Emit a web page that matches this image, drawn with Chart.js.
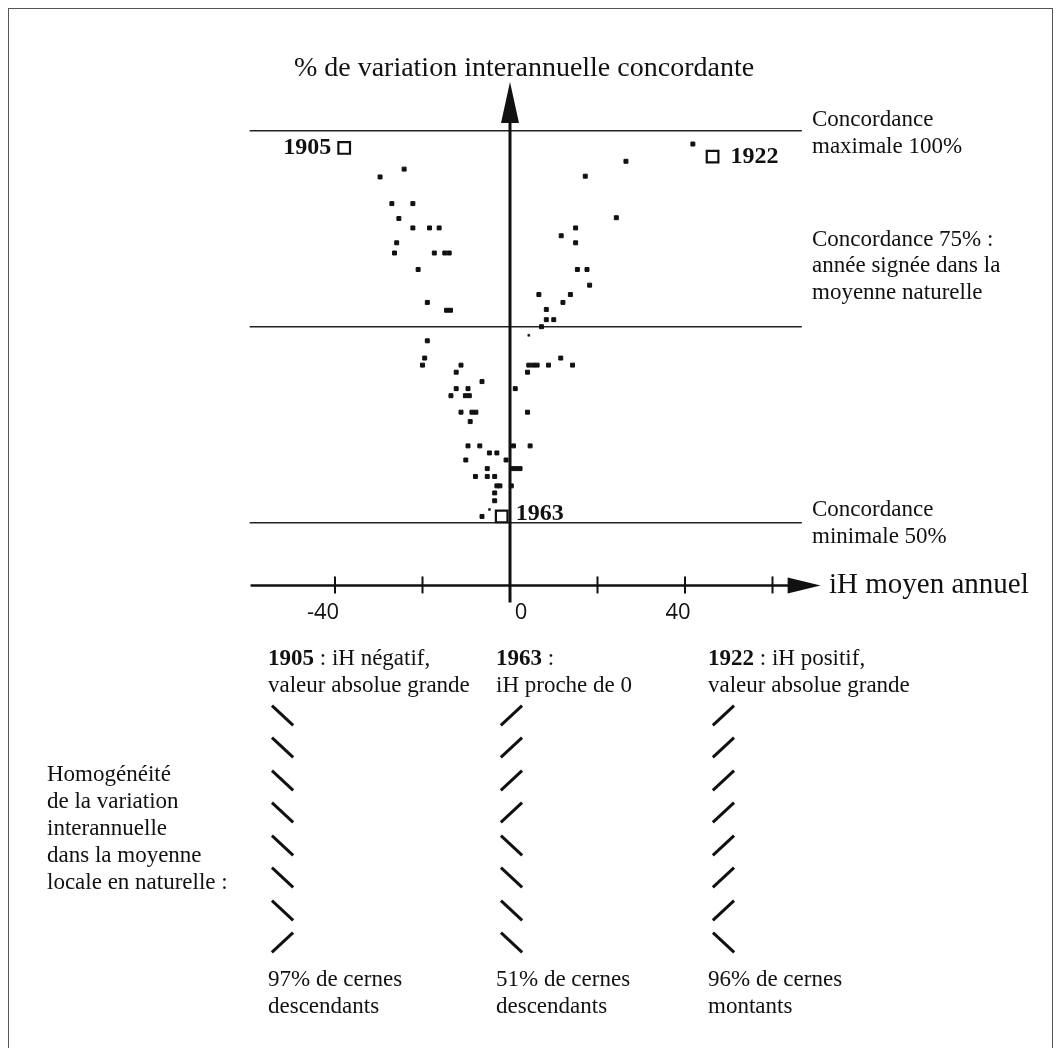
<!DOCTYPE html>
<html>
<head>
<meta charset="utf-8">
<script src="https://cdn.jsdelivr.net/npm/chart.js@4.4.1/dist/chart.umd.min.js"></script>
<style>
  html, body { margin: 0; padding: 0; background: #fff; }
  #wrap { position: relative; width: 1062px; height: 1048px; overflow: hidden;
          font-family: "Liberation Serif", "DejaVu Serif", serif; color: #111; }
  #frame { position: absolute; left: 8px; top: 8px; width: 1043px; height: 1100px;
           border: 1.5px solid #555; }
  canvas { position: absolute; left: 0; top: 0; }
  .t { position: absolute; white-space: nowrap; font-size: 23px; line-height: 27px; }
  .slash { position: absolute; width: 29px; height: 3.2px; background: #111; }
</style>
</head>
<body>
<div id="wrap">
  <div id="frame"></div>
  <canvas id="chart" width="1062" height="1048"></canvas>
</div>
<script>
// --- data: iH moyen annuel (x) vs % concordance (y) ---
const ihMean = [
  -24.2, -29.7, -27.0, -22.2, -25.4, -22.2, -18.4, -16.2, -25.9, -26.4, -17.3, -14.9, -13.9, -21.0, -18.9, -14.5, -13.6,
  41.8, 26.5, 17.2, 24.3, 15.0, 11.7, 15.0, 15.4, 17.6, 18.2, 6.6, 13.8, 12.1, 8.3, 8.3, 10.0, 7.2,
  -18.9, -19.5, -20.0, -11.2, -12.3, 4.3, 5.3, 6.2, 8.8, 11.6, 14.3, 4.0, -6.4, 1.2, -12.3, -9.6,
  -13.5, -10.2, -9.3, -11.2, -8.7, -7.8, 4.0, -9.1, -9.6, -6.9, 0.8, 4.6, -4.7, -3.0, -10.1, -0.9,
  -5.2, 0.5, 1.4, 2.3, -7.9, -5.2, -3.5, -3.0, -2.3, 0.3, -3.5, -3.5, -6.4
];
const concordance = [
  95.1, 94.1, 90.7, 90.7, 88.8, 87.6, 87.6, 87.6, 85.7, 84.4, 84.4, 84.4, 84.4, 82.3, 78.1, 77.1, 77.1,
  98.3, 96.1, 94.2, 88.9, 87.6, 86.6, 85.7, 82.3, 82.3, 80.3, 79.1, 79.1, 78.1, 77.2, 75.9, 75.9, 75.0,
  73.2, 71.0, 70.1, 70.1, 69.2, 70.1, 70.1, 70.1, 70.1, 71.0, 70.1, 69.2, 68.0, 67.1, 67.1, 67.1,
  66.2, 66.2, 66.2, 64.1, 64.1, 64.1, 64.1, 62.9, 59.8, 59.8, 59.8, 59.8, 58.9, 58.9, 58.0, 58.0,
  56.9, 56.9, 56.9, 56.9, 55.9, 55.9, 55.9, 54.7, 54.7, 54.7, 53.8, 52.8, 50.8
];
// tiny dots
const smallIh = [4.3, -4.7];
const smallConc = [73.9, 51.7];

// highlighted years
const years = ["1905", "1922", "1963"];
const yearIh = [-37.9, 46.3, -1.9];
const yearConc = [97.8, 96.7, 50.8];
const yearLabelSide = ["left", "right", "right"];

// reference levels
const refLevels = [100, 75, 50];
const refRange = [-59.5, 66.7];

// axis
const xTicks = [-40, -20, 20, 40, 60];
const xTickLabels = ["-40", "0", "40"];
const xTickLabelValues = [-40, 0, 40];
const xAxisAt = 42;
const xAxisRange = [-59.3, 71];
const yAxisTop = 106.2;

const toPts = (xs, ys) => xs.map((v, i) => ({ x: v, y: ys[i] }));

const refDatasets = refLevels.map((lv) => ({
  type: "line",
  data: [{ x: refRange[0], y: lv }, { x: refRange[1], y: lv }],
  borderColor: "#222",
  borderWidth: 1.4,
  pointRadius: 0,
  order: 5,
}));

const labelShift = [-12, 11, -7]; // the printed labels sit a little off their ticks

const axesPlugin = {
  id: "handAxes",
  afterDatasetsDraw(chart) {
    const { ctx, scales: { x, y } } = chart;
    const y0 = y.getPixelForValue(xAxisAt);
    const x0 = x.getPixelForValue(0);
    ctx.save();
    ctx.strokeStyle = "#111";
    ctx.fillStyle = "#111";

    // horizontal axis + arrow
    const tip = x.getPixelForValue(xAxisRange[1]);
    ctx.lineWidth = 2.6;
    ctx.beginPath();
    ctx.moveTo(x.getPixelForValue(xAxisRange[0]), y0);
    ctx.lineTo(tip - 30, y0);
    ctx.stroke();
    ctx.beginPath();
    ctx.moveTo(tip, y0);
    ctx.lineTo(tip - 33, y0 - 8);
    ctx.lineTo(tip - 33, y0 + 8);
    ctx.closePath();
    ctx.fill();

    ctx.lineWidth = 2;
    xTicks.forEach((t) => {
      const px = x.getPixelForValue(t);
      ctx.beginPath();
      ctx.moveTo(px, y0 - 9);
      ctx.lineTo(px, y0 + 8);
      ctx.stroke();
    });

    ctx.font = '22px "Open Sans", Lato, sans-serif';
    ctx.textAlign = "center";
    ctx.textBaseline = "middle";
    xTickLabelValues.forEach((v, i) => {
      ctx.fillText(xTickLabels[i], x.getPixelForValue(v) + labelShift[i], y0 + 27);
    });

    // vertical axis + arrow
    const ytip = y.getPixelForValue(yAxisTop);
    ctx.lineWidth = 3;
    ctx.beginPath();
    ctx.moveTo(x0, y0 + 17);
    ctx.lineTo(x0, ytip + 30);
    ctx.stroke();
    ctx.beginPath();
    ctx.moveTo(x0, ytip);
    ctx.lineTo(x0 - 9, ytip + 41);
    ctx.lineTo(x0 + 9, ytip + 41);
    ctx.closePath();
    ctx.fill();

    // year labels next to the open squares
    ctx.font = 'bold 24px "Liberation Serif", serif';
    ctx.textBaseline = "middle";
    years.forEach((yr, i) => {
      const px = x.getPixelForValue(yearIh[i]);
      const py = y.getPixelForValue(yearConc[i]);
      if (yearLabelSide[i] === "left") {
        ctx.textAlign = "right";
        ctx.fillText(yr, px - 13, py);
      } else {
        ctx.textAlign = "left";
        ctx.fillText(yr, px + (i === 1 ? 18 : 14), py - (i === 2 ? 3 : 0));
      }
    });
    ctx.restore();
  },
};

new Chart(document.getElementById("chart"), {
  type: "scatter",
  data: {
    datasets: [
      ...refDatasets,
      {
        data: toPts(ihMean, concordance),
        pointStyle: "rect",
        pointRadius: 2.8,
        borderWidth: 1,
        backgroundColor: "#111",
        borderColor: "#111",
        order: 2,
      },
      {
        data: toPts(smallIh, smallConc),
        pointStyle: "rect",
        pointRadius: 1.4,
        borderWidth: 0.5,
        backgroundColor: "#111",
        borderColor: "#111",
        order: 2,
      },
      {
        data: toPts(yearIh, yearConc),
        pointStyle: "rect",
        pointRadius: 8.2,
        borderWidth: 2.2,
        backgroundColor: "#fff",
        borderColor: "#111",
        order: 1,
      },
    ],
  },
  options: {
    responsive: false,
    animation: false,
    events: [],
    layout: { padding: { left: 247.5, right: 202, top: 52.3, bottom: 431.2 } },
    scales: {
      x: { type: "linear", min: -60, max: 80, display: false },
      y: { type: "linear", min: 38, max: 110, display: false },
    },
    plugins: { legend: { display: false }, tooltip: { enabled: false } },
  },
  plugins: [axesPlugin],
});

// --- surrounding text ---
const wrap = document.getElementById("wrap");
const addText = (lines, left, cy, opts = {}) => {
  const size = opts.size || 23;
  const lh = opts.lh || 27;
  lines.forEach((ln, i) => {
    const d = document.createElement("div");
    d.className = "t";
    d.style.fontSize = size + "px";
    d.style.lineHeight = lh + "px";
    d.style.top = cy + i * lh - lh / 2 + "px";
    d.style.left = left + "px";
    if (opts.center) d.style.transform = "translateX(-50%)";
    d.innerHTML = ln;
    wrap.appendChild(d);
  });
};

addText(["% de variation interannuelle concordante"], 524, 67, { size: 28, lh: 32, center: true });
addText(["Concordance", "maximale 100%"], 812, 118);
addText(["Concordance 75% :", "année signée dans la", "moyenne naturelle"], 812, 239, { lh: 26.5 });
addText(["Concordance", "minimale 50%"], 812, 508);
addText(["iH moyen annuel"], 829, 583, { size: 29, lh: 32 });

addText(["<b>1905</b> : iH négatif,", "valeur absolue grande"], 268, 657);
addText(["<b>1963</b> :", "iH proche de 0"], 496, 657);
addText(["<b>1922</b> : iH positif,", "valeur absolue grande"], 708, 657);

addText(["Homogénéité", "de la variation", "interannuelle", "dans la moyenne", "locale en naturelle :"], 47, 773);

const slashCols = [
  { left: 270, marks: ["\\", "\\", "\\", "\\", "\\", "\\", "\\", "/"] },
  { left: 499, marks: ["/", "/", "/", "/", "\\", "\\", "\\", "\\"] },
  { left: 711, marks: ["/", "/", "/", "/", "/", "/", "/", "\\"] },
];
slashCols.forEach((col) => {
  col.marks.forEach((m, i) => {
    const d = document.createElement("div");
    d.className = "slash";
    d.style.left = col.left - 2 + "px";
    d.style.top = 715 + i * 32.5 - 1.5 + "px";
    d.style.transform = "rotate(" + (m === "/" ? -43 : 43) + "deg)";
    wrap.appendChild(d);
  });
});

addText(["97% de cernes", "descendants"], 268, 978);
addText(["51% de cernes", "descendants"], 496, 978);
addText(["96% de cernes", "montants"], 708, 978);
</script>
</body>
</html>
